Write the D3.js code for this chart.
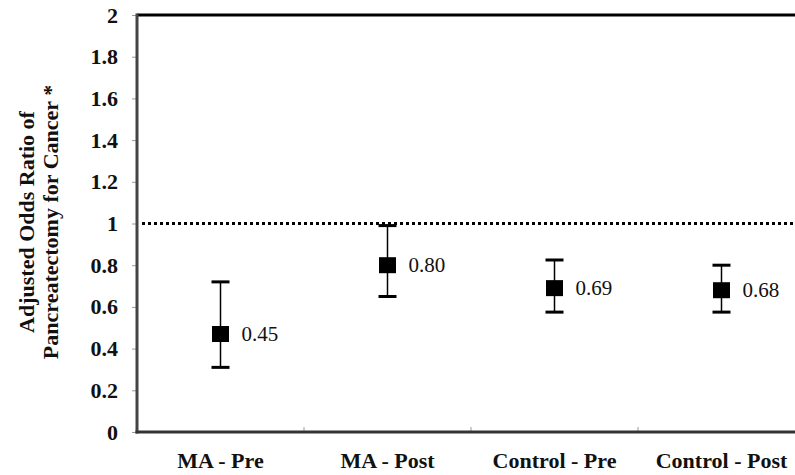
<!DOCTYPE html>
<html lang="en">
	<head>
		<meta charset="UTF-8">
		<title>Adjusted Odds Ratio</title>
		<script src="https://d3js.org/d3.v7.min.js"></script>
		<style>
			body { margin: 0; background: #fff; }
			text { font-family: "Liberation Serif", "Times New Roman", serif; }
		</style>
	</head>
	<body>
		<script>
			var categories = ['MA - Pre', 'MA - Post', 'Control - Pre', 'Control - Post'];
			var oddsRatio = [0.47, 0.80, 0.69, 0.68];
			var oddsLabels = ['0.45', '0.80', '0.69', '0.68'];
			var ciLower = [0.31, 0.65, 0.575, 0.575];
			var ciUpper = [0.72, 0.99, 0.825, 0.80];
			var yTicks = [0, 0.2, 0.4, 0.6, 0.8, 1, 1.2, 1.4, 1.6, 1.8, 2];

			var width = 795, height = 475;
			var plotLeft = 137, plotRight = 805, plotTop = 15, plotBottom = 432;

			var data = categories.map(function(c, i) {
				return { cat: c, or: oddsRatio[i], label: oddsLabels[i], lo: ciLower[i], hi: ciUpper[i] };
			});

			var svg = d3.select('body')
						.append('svg')
						.attr('width', width)
						.attr('height', height);

			var x = d3.scaleBand()
						.domain(categories)
						.range([plotLeft, plotRight]);

			var y = d3.scaleLinear()
						.domain([0, 2])
						.range([plotBottom, plotTop]);

			// y axis
			var yAxis = svg.append('g')
							.attr('transform', 'translate(' + plotLeft + ',0)')
							.call(d3.axisLeft(y).tickValues(yTicks).tickSize(5).tickPadding(14)
								.tickFormat(function(d) { return String(d); }));
			yAxis.select('.domain').remove();
			yAxis.selectAll('.tick line').attr('stroke', '#999');
			yAxis.selectAll('.tick text')
				.attr('font-size', 22)
				.attr('font-weight', 'bold')
				.attr('fill', '#111')
				.style('font-family', '"Liberation Serif", serif');

			// x axis labels
			var xAxis = svg.append('g')
							.attr('transform', 'translate(0,' + plotBottom + ')')
							.call(d3.axisBottom(x).tickSize(0).tickPadding(20));
			xAxis.select('.domain').remove();
			xAxis.selectAll('.tick text')
				.attr('font-size', 22)
				.attr('font-weight', 'bold')
				.attr('fill', '#111')
				.style('font-family', '"Liberation Serif", serif');

			// x ticks between categories
			svg.selectAll('.xsep')
				.data(categories.slice(1))
				.enter()
					.append('line')
					.attr('x1', function(d) { return x(d); })
					.attr('x2', function(d) { return x(d); })
					.attr('y1', plotBottom)
					.attr('y2', plotBottom - 5)
					.attr('stroke', '#999');

			// frame
			svg.append('line')
				.attr('x1', plotLeft).attr('x2', width)
				.attr('y1', y(2)).attr('y2', y(2))
				.attr('stroke', '#000').attr('stroke-width', 3);
			svg.append('line')
				.attr('x1', plotLeft).attr('x2', plotLeft)
				.attr('y1', y(2) - 1.5).attr('y2', y(0) + 1.5)
				.attr('stroke', '#444').attr('stroke-width', 3);
			svg.append('line')
				.attr('x1', plotLeft - 1.5).attr('x2', width)
				.attr('y1', y(0)).attr('y2', y(0))
				.attr('stroke', '#333').attr('stroke-width', 3);

			// reference line at 1
			svg.append('line')
				.attr('x1', plotLeft + 5).attr('x2', width)
				.attr('y1', y(1)).attr('y2', y(1))
				.attr('stroke', '#000')
				.attr('stroke-width', 3)
				.attr('stroke-dasharray', '3,3');

			var cx = function(d) { return x(d.cat) + x.bandwidth() / 2; };

			var g = svg.selectAll('.pt')
						.data(data)
						.enter()
							.append('g');

			g.append('line')
				.attr('x1', cx).attr('x2', cx)
				.attr('y1', function(d) { return y(d.lo); })
				.attr('y2', function(d) { return y(d.hi); })
				.attr('stroke', '#000')
				.attr('stroke-width', 1.5);

			g.selectAll('.cap')
				.data(function(d) { return [{ c: cx(d), v: d.lo }, { c: cx(d), v: d.hi }]; })
				.enter()
					.append('line')
					.attr('x1', function(d) { return d.c - 9; })
					.attr('x2', function(d) { return d.c + 9; })
					.attr('y1', function(d) { return y(d.v); })
					.attr('y2', function(d) { return y(d.v); })
					.attr('stroke', '#000')
					.attr('stroke-width', 3);

			g.append('rect')
				.attr('x', function(d) { return cx(d) - 8.5; })
				.attr('y', function(d) { return y(d.or) - 8; })
				.attr('width', 17)
				.attr('height', 16)
				.attr('fill', '#000');

			g.append('text')
				.attr('x', function(d) { return cx(d) + 21; })
				.attr('y', function(d) { return y(d.or) + 7; })
				.attr('font-size', 21)
				.attr('fill', '#111')
				.text(function(d) { return d.label; });

			// y axis title
			svg.append('text')
				.attr('transform', 'translate(34,222) rotate(-90)')
				.attr('text-anchor', 'middle')
				.attr('font-size', 22)
				.attr('font-weight', 'bold')
				.attr('fill', '#111')
				.text('Adjusted Odds Ratio of');
			svg.append('text')
				.attr('transform', 'translate(58,222) rotate(-90)')
				.attr('text-anchor', 'middle')
				.attr('font-size', 22)
				.attr('font-weight', 'bold')
				.attr('fill', '#111')
				.text('Pancreatectomy for Cancer *');
		</script>
	</body>
</html>
